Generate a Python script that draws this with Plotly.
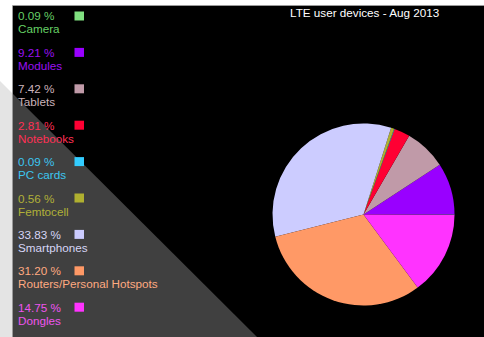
import plotly.graph_objects as go

# LTE user device shares, August 2013
categories = ["Camera", "Modules", "Tablets", "Notebooks", "PC cards",
              "Femtocell", "Smartphones", "Routers/Personal Hotspots", "Dongles"]
shares = [0.09, 9.21, 7.42, 2.81, 0.09, 0.56, 33.83, 31.20, 14.75]
slice_colors = ["#80e080", "#9900ff", "#c09aa8", "#ff0033", "#33ccff",
                "#b0b030", "#ccccff", "#ff9966", "#ff33ff"]
label_colors = ["#66d066", "#9a10f0", "#cbb3bb", "#ff3055", "#3cc6f0",
                "#b0b038", "#d6d6f6", "#ffaa80", "#ee55ee"]
title_text = "LTE user devices - Aug 2013"

W, H = 484, 337


def px(x):
    return x / W


def py(y):
    return 1 - y / H


fig = go.Figure()

# pie: centre (363.5, 214.5), radius 91 px
cx, cy, r = 363.5, 214.5, 91
fig.add_trace(go.Pie(
    labels=categories,
    values=shares,
    sort=False,
    direction="counterclockwise",
    rotation=90,
    marker=dict(colors=slice_colors, line=dict(width=0)),
    textinfo="none",
    hoverinfo="label+percent",
    showlegend=False,
    domain=dict(x=[px(cx - r), px(cx + r)], y=[py(cy + r), py(cy - r)]),
))

shapes = []


def path(points):
    return "M " + " L ".join(f"{px(x)},{py(y)}" for x, y in points) + " Z"


# faint diagonal band in the outer margin
shapes.append(dict(type="path", xref="paper", yref="paper", layer="below",
                   path=path([(0, 81), (0, H), (256, H)]),
                   fillcolor="#e4e4e4", line=dict(width=0)))
# black chart panel
shapes.append(dict(type="rect", xref="paper", yref="paper", layer="below",
                   x0=px(13), x1=1, y0=0, y1=py(6),
                   fillcolor="#000000", line=dict(width=0)))
# dark grey diagonal wedge behind the legend
shapes.append(dict(type="path", xref="paper", yref="paper", layer="below",
                   path=path([(13, 94), (13, H), (257, H)]),
                   fillcolor="#404040", line=dict(width=0)))
# panel border (left and top)
shapes.append(dict(type="line", xref="paper", yref="paper", layer="below",
                   x0=px(12.5), x1=px(12.5), y0=0, y1=py(5.5),
                   line=dict(color="#9a9a9a", width=1)))
shapes.append(dict(type="line", xref="paper", yref="paper", layer="below",
                   x0=px(12.5), x1=1, y0=py(5.5), y1=py(5.5),
                   line=dict(color="#9a9a9a", width=1)))

annotations = []
font_family = "Liberation Sans, Arial, sans-serif"
font_size = 11.7
row_gap = 36.4
for i, (name, val) in enumerate(zip(categories, shares)):
    y_val = 16 + row_gap * i
    annotations.append(dict(
        text=f"{val:.2f} %", x=px(15.5), y=py(y_val), xref="paper", yref="paper",
        xanchor="left", yanchor="middle", showarrow=False,
        font=dict(family=font_family, size=font_size, color=label_colors[i])))
    annotations.append(dict(
        text=name, x=px(15.5), y=py(y_val + 13), xref="paper", yref="paper",
        xanchor="left", yanchor="middle", showarrow=False,
        font=dict(family=font_family, size=font_size, color=label_colors[i])))
    shapes.append(dict(type="rect", xref="paper", yref="paper",
                       x0=px(74.5), x1=px(84), y0=py(y_val + 4.5), y1=py(y_val - 4.5),
                       fillcolor=slice_colors[i], line=dict(width=0)))

annotations.append(dict(
    text=title_text, x=px(364.5), y=py(12), xref="paper", yref="paper",
    xanchor="center", yanchor="middle", showarrow=False,
    font=dict(family=font_family, size=font_size, color="#ffffff")))

fig.update_layout(
    width=W, height=H,
    margin=dict(l=0, r=0, t=0, b=0),
    paper_bgcolor="#ffffff",
    shapes=shapes,
    annotations=annotations,
)

fig.write_html("out.html")
